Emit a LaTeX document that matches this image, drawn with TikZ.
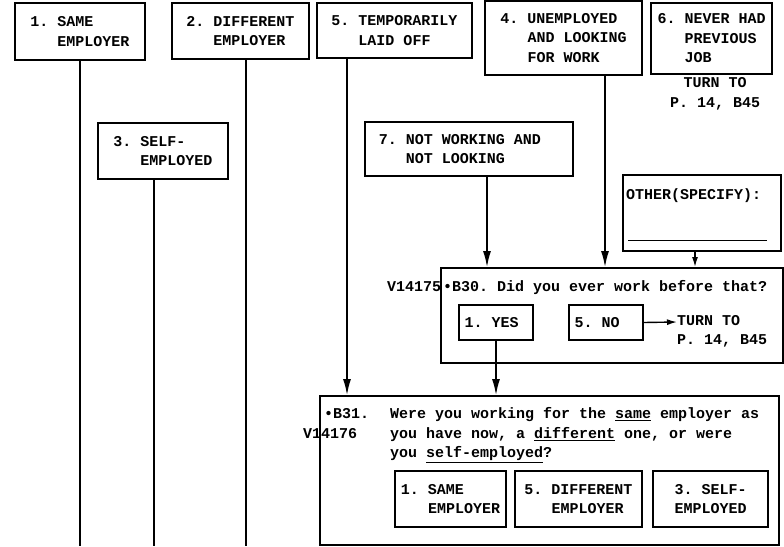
\documentclass[tikz,border=0pt]{standalone}
\usepackage{fontspec}
\setmonofont{Liberation Mono}
\usetikzlibrary{arrows.meta,calc}
\begin{document}
\begin{tikzpicture}[x=1pt,y=-1pt,
  tt/.style={font=\fontsize{15}{19.5}\selectfont\ttfamily\bfseries},
  frame/.style={draw, line width=1.6pt, inner sep=0pt},
  box/.style={frame, tt, align=left},
  ansbox/.style={box, minimum height=56pt},
  lbl/.style={tt, inner sep=0pt, text height=10pt, text depth=3pt},
  conn/.style={line width=1.4pt},
  arr/.style={conn, -{Latex[length=16pt,width=8pt]}},
  sarr/.style={conn, -{Latex[length=10pt,width=6pt]}}]
\useasboundingbox (0,0) rectangle (784,546);

% top row of boxes
\node[box, minimum width=130pt, minimum height=57pt] (b1) at (80,31.5)
  {1. SAME\\\hphantom{000}EMPLOYER};
\node[box, minimum width=137pt, minimum height=56pt] (b2) at (240.5,31)
  {2. DIFFERENT\\\hphantom{000}EMPLOYER};
\node[box, minimum width=155pt, minimum height=55pt] (b5) at (394.5,30.5)
  {5. TEMPORARILY\\\hphantom{000}LAID OFF};
\node[box, minimum width=157pt, minimum height=74pt] (b4) at (563.5,38)
  {4. UNEMPLOYED\\\hphantom{000}AND LOOKING\\\hphantom{000}FOR WORK};
\node[box, minimum width=121pt, minimum height=71pt] (b6) at (711.5,38.5)
  {6. NEVER HAD\\\hphantom{000}PREVIOUS\\\hphantom{000}JOB};
\node[tt, align=center, inner sep=0pt] (t6) at (715,94) {TURN TO\\P. 14, B45};

% second row
\node[box, minimum width=130pt, minimum height=56pt] (b3) at (163,151)
  {3. SELF-\\\hphantom{000}EMPLOYED};
\node[box, minimum width=208pt, minimum height=54pt] (b7) at (469,149)
  {7. NOT WORKING AND\hphantom{00}\\\hphantom{000}NOT LOOKING};

% other (specify)
\node[frame, minimum width=158pt, minimum height=76pt, anchor=north west] (oth) at (622,174) {};
\node[lbl, anchor=west] (othT) at (626,196) {OTHER(SPECIFY):};
\draw[conn] ($(oth.south west)+(6,-11)$) -- ($(oth.south east)+(-15,-11)$);

% B30
\node[frame, minimum width=342pt, minimum height=95pt, anchor=north west] (b30) at (440,267) {};
\node[lbl, anchor=west] (v30) at (387,288) {V14175};
\node[lbl, anchor=west] (q30) at (443,288) {•B30. Did you ever work before that?};
\node[box, minimum width=74pt, minimum height=35pt] (yes) at (496,322.5) {1. YES\hphantom{0}};
\node[box, minimum width=74pt, minimum height=35pt] (no) at (606,322.5) {5. NO\hphantom{00}};
\node[lbl, anchor=west] (turnA) at (677,322) {TURN TO};
\node[lbl, anchor=west] (turnB) at (677,341) {P. 14, B45};

% B31
\node[frame, minimum width=459pt, minimum height=149pt, anchor=north west] (b31) at (319,395) {};
\node[lbl, anchor=west] (q31) at (324,415) {•B31.};
\node[lbl, anchor=west] (v31) at (303,435) {V14176};
\node[lbl, anchor=west] (l1) at (390,415) {Were you working for the \underline{same} employer as};
\node[lbl, anchor=west] (l2) at (390,435) {you have now, a \underline{different} one, or were};
\node[lbl, anchor=west] (l3) at (390,454) {you \underline{self-employed}?};
\node[ansbox, minimum width=111pt] (a1) at (450.5,499) {1. SAME\\\hphantom{000}EMPLOYER};
\node[ansbox, minimum width=127pt] (a2) at (578.5,499) {5. DIFFERENT\\\hphantom{000}EMPLOYER};
\node[ansbox, minimum width=115pt, align=center] (a3) at (710.5,499) {3. SELF-\\EMPLOYED};

% coordinates for connector positions
\coordinate (e1) at (80,546);
\coordinate (e2) at (246,546);
\coordinate (e3) at (154,546);
\coordinate (x5) at (347,0);
\coordinate (x7) at (487,0);
\coordinate (x4) at (605,0);
\coordinate (x6) at (695,0);

% connectors
\draw[conn] (b1.south -| e1) -- (e1);
\draw[conn] (b2.south -| e2) -- (e2);
\draw[conn] (b3.south -| e3) -- (e3);
\draw[arr] (b5.south -| x5) -- (b31.north -| x5);
\draw[arr] (b7.south -| x7) -- (b30.north -| x7);
\draw[arr] (b4.south -| x4) -- (b30.north -| x4);
\draw[sarr] (oth.south -| x6) -- (b30.north -| x6);
\draw[arr] (yes.south) -- (yes.south |- b31.north);
\draw[sarr] (no.east) -- (turnA.west);
\end{tikzpicture}
\end{document}
